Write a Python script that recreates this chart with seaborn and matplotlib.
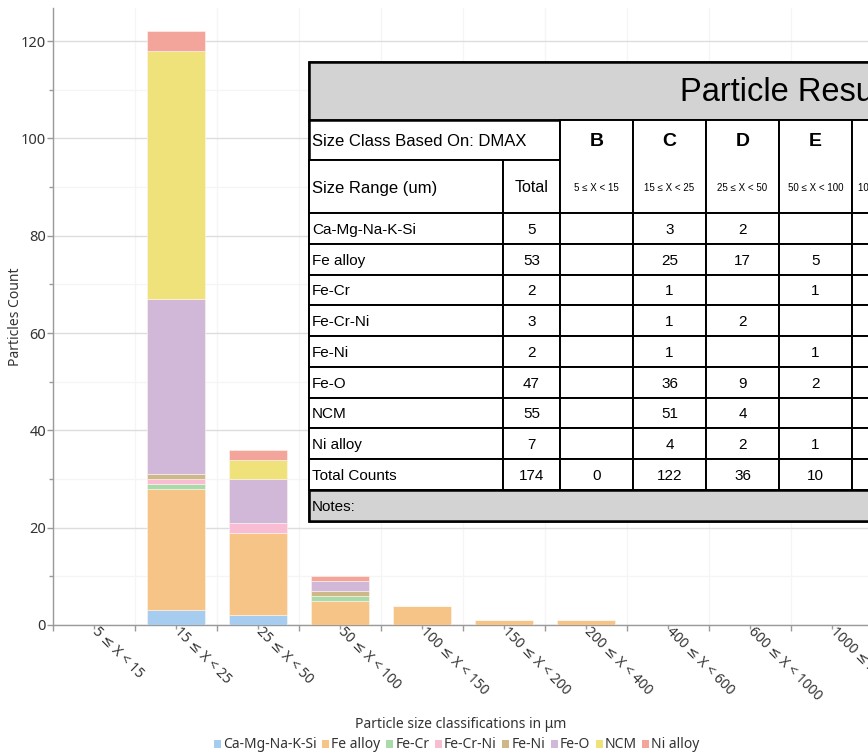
import numpy as np
import pandas as pd
import matplotlib
matplotlib.use("Agg")
import matplotlib.pyplot as plt
import matplotlib.transforms as mtransforms
import seaborn as sns
from matplotlib.patches import Rectangle, Patch

# ---------------- data ----------------
size_classes = ["5 ≤ X < 15", "15 ≤ X < 25", "25 ≤ X < 50", "50 ≤ X < 100",
                "100 ≤ X < 150", "150 ≤ X < 200", "200 ≤ X < 400",
                "400 ≤ X < 600", "600 ≤ X < 1000", "1000 ≤ X < 2000"]
class_letters = ["B", "C", "D", "E", "F", "G", "H", "I", "J", "K"]
materials = ["Ca-Mg-Na-K-Si", "Fe alloy", "Fe-Cr", "Fe-Cr-Ni", "Fe-Ni",
             "Fe-O", "NCM", "Ni alloy"]
ca_mg_na_k_si = [0, 3, 2, 0, 0, 0, 0, 0, 0, 0]
fe_alloy      = [0, 25, 17, 5, 4, 1, 1, 0, 0, 0]
fe_cr         = [0, 1, 0, 1, 0, 0, 0, 0, 0, 0]
fe_cr_ni      = [0, 1, 2, 0, 0, 0, 0, 0, 0, 0]
fe_ni         = [0, 1, 0, 1, 0, 0, 0, 0, 0, 0]
fe_o          = [0, 36, 9, 2, 0, 0, 0, 0, 0, 0]
ncm           = [0, 51, 4, 0, 0, 0, 0, 0, 0, 0]
ni_alloy      = [0, 4, 2, 1, 0, 0, 0, 0, 0, 0]
series = [ca_mg_na_k_si, fe_alloy, fe_cr, fe_cr_ni, fe_ni, fe_o, ncm, ni_alloy]

colors = ["#a6cdef", "#f7c488", "#a9dba8", "#f8bdd3", "#ceb889",
          "#d1b7d8", "#efe27b", "#f4a59b"]
table_title = "Particle Results"

# ---------------- figure ----------------
sns.set_theme(style="white")
plt.rcParams["font.family"] = ["Noto Sans", "DejaVu Sans"]
W, H = 868, 754
fig = plt.figure(figsize=(W / 100, H / 100), dpi=100)

ax_l, ax_b, ax_t = 53, 625, 8
cat_w = 82
ax = fig.add_axes([ax_l / W, 1 - ax_b / H, (cat_w * len(size_classes)) / W, (ax_b - ax_t) / H])

rows = []
for m, vals in zip(materials, series):
    for i, v in enumerate(vals):
        if v > 0:
            rows.append({"idx": i, "material": m, "count": v})
df = pd.DataFrame(rows)

palette = dict(zip(materials, colors))
sns.histplot(data=df, x="idx", weights="count", hue="material",
             hue_order=materials[::-1], multiple="stack", discrete=True,
             shrink=0.7, palette=palette, alpha=1.0, edgecolor="#fdf6ee",
             linewidth=0.4, legend=False, ax=ax, zorder=3)

ax.set_xlim(-0.5, len(size_classes) - 0.5)
ax.set_ylim(0, 126.8)
ax.set_yticks(np.arange(0, 121, 20))
ax.set_yticks(np.arange(10, 121, 20), minor=True)
ax.set_xticks(np.arange(len(size_classes)))
ax.set_xticks(np.arange(len(size_classes) + 1) - 0.5, minor=True)
ax.set_xticklabels(size_classes, rotation=-45, ha="left", va="center",
                   rotation_mode="anchor", fontsize=10, color="#333333")
off = mtransforms.ScaledTranslation(-5 / 100, -14 / 100, fig.dpi_scale_trans)
for lbl in ax.get_xticklabels():
    lbl.set_transform(lbl.get_transform() + off)
ax.tick_params(axis="y", which="major", length=4, width=1, color="#9a9a9a",
               labelsize=10.5, labelcolor="#333333", pad=1, left=True)
ax.tick_params(axis="y", which="minor", length=3, width=1, color="#9a9a9a", left=True)
ax.tick_params(axis="x", which="major", length=3, width=1, color="#9a9a9a", bottom=True, pad=0)
ax.tick_params(axis="x", which="minor", length=4, width=1, color="#9a9a9a", bottom=True)
ax.set_xlabel("")
ax.set_ylabel("Particles Count", fontsize=10, color="#333333")
ax.yaxis.set_label_coords(-(ax_l - 23) / (cat_w * len(size_classes)), 0.5)
ax.grid(axis="y", which="major", color="#dddddd", linewidth=1)
ax.grid(axis="y", which="minor", color="#f5f5f5", linewidth=1)
ax.grid(axis="x", which="minor", color="#f5f5f5", linewidth=1)
for s in ["top", "right"]:
    ax.spines[s].set_visible(False)
for s in ["left", "bottom"]:
    ax.spines[s].set_color("#9a9a9a")
    ax.spines[s].set_linewidth(1)

fig.text(461 / W, 1 - 724 / H, "Particle size classifications in μm",
         ha="center", va="center", fontsize=10, color="#333333")

handles = [Patch(facecolor=c, edgecolor="none") for c in colors]
fig.legend(handles, materials, loc="center", bbox_to_anchor=(457 / W, 1 - 745 / H),
           ncol=len(materials), frameon=False, fontsize=10, handlelength=0.5,
           handleheight=0.5, handletextpad=0.15, columnspacing=0.4,
           labelcolor="#333333", borderpad=0, borderaxespad=0)

# ---------------- table overlay ----------------
tx = fig.add_axes([0, 0, 1, 1], zorder=10)
tx.set_xlim(0, W)
tx.set_ylim(H, 0)
tx.axis("off")
tx.patch.set_alpha(0)

x_lab, x_tot, x_cls = 309, 503, 560
col_w = 73
x_edges = [x_lab, x_tot] + [x_cls + k * col_w for k in range(len(size_classes) + 1)]
x_right = x_edges[-1]
y_title, y_h1, y_h2, y_rows = 62, 120, 160, 213
row_h = 30.75
n_rows = len(materials) + 1
y_notes = y_rows + n_rows * row_h
y_end = y_notes + 31
lw = 1.4
tfont = ["Liberation Sans", "DejaVu Sans"]
fs = 11
fs_head = 12


def cell(x0, y0, x1, y1, fc="white", lwid=lw):
    tx.add_patch(Rectangle((x0, y0), x1 - x0, y1 - y0, facecolor=fc,
                           edgecolor="black", linewidth=lwid))


def put(x, y, s, ha="center", size=fs, weight="normal"):
    tx.text(x, y + 1.5, s, ha=ha, va="center", fontsize=size, fontweight=weight,
            family=tfont, color="black")


# background / title
cell(x_lab, y_title, x_right, y_end, fc="white", lwid=1.8)
cell(x_lab, y_title, x_right, y_h1, fc="#d3d3d3", lwid=1.8)
put(680, (y_title + y_h1) / 2, table_title, ha="left", size=23.5)
cell(x_lab, y_h1, x_cls, y_h2, lwid=1.8)
put(x_lab + 3, (y_h1 + y_h2) / 2, "Size Class Based On: DMAX", ha="left", size=fs_head)
cell(x_lab, y_h2, x_tot, y_rows)
put(x_lab + 3, (y_h2 + y_rows) / 2, "Size Range (um)", ha="left", size=fs_head)
cell(x_tot, y_h2, x_cls, y_rows)
put((x_tot + x_cls) / 2, (y_h2 + y_rows) / 2, "Total", size=11.5)
for k, (letter, rng) in enumerate(zip(class_letters, size_classes)):
    x0, x1 = x_edges[2 + k], x_edges[3 + k]
    cell(x0, y_h1, x1, y_rows)
    put((x0 + x1) / 2, 140, letter, size=14, weight="bold")
    put((x0 + x1) / 2, (y_h2 + y_rows) / 2, rng, size=7)

row_labels = materials + ["Total Counts"]
row_vals = series + [[sum(col) for col in zip(*series)]]
for r, (lab, vals) in enumerate(zip(row_labels, row_vals)):
    y0 = y_rows + r * row_h
    y1 = y0 + row_h
    yc = (y0 + y1) / 2
    cell(x_lab, y0, x_tot, y1)
    put(x_lab + 3, yc, lab, ha="left")
    cell(x_tot, y0, x_cls, y1)
    put((x_tot + x_cls) / 2, yc, str(sum(vals)))
    for k, v in enumerate(vals):
        x0, x1 = x_edges[2 + k], x_edges[3 + k]
        cell(x0, y0, x1, y1)
        if v > 0 or lab == "Total Counts":
            put((x0 + x1) / 2, yc, str(v))

cell(x_lab, y_notes, x_right, y_end, fc="#d3d3d3", lwid=1.8)
put(x_lab + 3, (y_notes + y_end) / 2, "Notes:", ha="left")

fig.savefig("out.png", dpi=100)
